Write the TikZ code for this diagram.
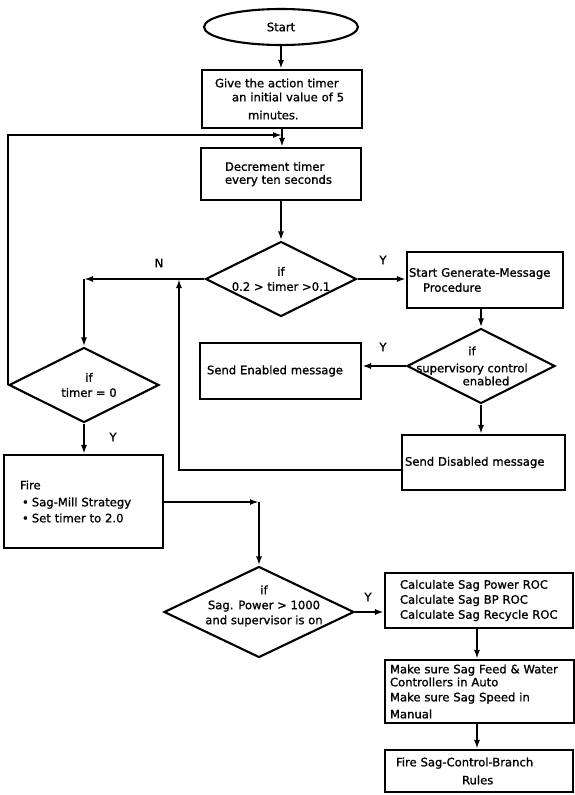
\documentclass[tikz,border=0pt]{standalone}
\usepackage{fontspec}
\setmainfont{DejaVu Sans}[FakeBold=1.2]
\usetikzlibrary{shapes.geometric,arrows.meta}
\begin{document}
\begin{tikzpicture}[x=1pt,y=-1pt,
  every node/.style={font=\fontsize{11.6}{15}\selectfont},
  box/.style={draw, line width=2.1pt, rectangle, inner ysep=0pt, align=left},
  dia/.style={draw, line width=2.1pt, diamond, inner sep=0pt},
  dtext/.style={align=center, inner sep=0pt},
  conn/.style={line width=1.8pt, -{Latex[length=9pt,width=6pt]}},
  lab/.style={inner sep=0pt}]
\useasboundingbox (0,0) rectangle (575,795);

% nodes
\node[draw, line width=2.1pt, ellipse, inner sep=0pt, minimum width=154pt, minimum height=36pt] (start) at (281,27) {Start};

\node[box, inner xsep=13pt, text width=134pt, minimum height=58pt] (b1) at (282,99)
  {Give the action timer\\[-1pt]\hspace*{17pt}an initial value of 5\\[3pt]\hspace*{33pt}minutes.};

\node[box, inner xsep=24pt, text width=112pt, minimum height=52pt] (b2) at (281,174)
  {\mbox{}\\[-6pt]Decrement timer\\[-2pt]every ten seconds};

\node[dia, minimum width=151pt, minimum height=75pt,
  label={[dtext]center:{if\\0.2 > timer >0.1}}] (d1) at (281,279) {};

\node[box, inner xsep=2pt, text width=152pt, minimum height=56pt] (b3) at (485,280)
  {Start Generate-Message\\\hspace*{14pt}Procedure};

\node[dia, minimum width=148pt, minimum height=75pt,
  label={[dtext,xshift=-9pt]center:{if\\[2pt]supervisory control\\[-2pt]\hspace*{28pt}enabled}}] (d3) at (481,366) {};

\node[box, inner xsep=7pt, text width=147pt, minimum height=56pt] (en) at (280.5,371)
  {Send Enabled message};

\node[box, inner xsep=3pt, text width=157pt, minimum height=55pt] (dis) at (483.5,462.5)
  {Send Disabled message};

\node[dia, minimum width=150pt, minimum height=75pt,
  label={[dtext,xshift=5pt]center:{if\\timer = 0}}] (d2) at (84,385) {};

\node[box, inner xsep=16pt, text width=127pt, minimum height=93pt] (fire) at (83.5,501.5)
  {Fire\\[2pt]\hspace*{2pt}•\hspace*{3pt}Sag-Mill Strategy\\[1pt]\hspace*{2pt}•\hspace*{3pt}Set timer to 2.0};

\node[dia, minimum width=190pt, minimum height=91pt,
  label={[dtext,xshift=5pt,yshift=6pt]center:{if\\Sag. Power > 1000\\and supervisor is on}}] (d4) at (259,612) {};

\node[box, inner xsep=15pt, text width=158pt, minimum height=55pt] (calc) at (479,600.5)
  {Calculate Sag Power ROC\\Calculate Sag BP ROC\\Calculate Sag Recycle ROC};

\node[box, inner xsep=5pt, text width=179pt, minimum height=63pt] (make) at (479.5,691.5)
  {Make sure Sag Feed \& Water\\[-2pt]Controllers in Auto\\Make sure Sag Speed in\\[2pt]Manual};

\node[box, inner xsep=11pt, text width=166pt, minimum height=42pt] (fsag) at (479,771)
  {Fire Sag-Control-Branch\\[3pt]\hspace*{66pt}Rules};

% branch labels
\node[lab] (nN) at (159,263) {N};
\node[lab] (y1) at (383,260) {Y};
\node[lab] (y2) at (383,347) {Y};
\node[lab] (y3) at (113,437) {Y};
\node[lab] (y4) at (368,597) {Y};

% junction coordinates
\coordinate (j1) at (282,135);
\coordinate (c1) at (84,279);
\coordinate (c2) at (179,279);
\coordinate (c3) at (259,502);

% connectors
\draw[conn] (start.south) -- (start.south |- b1.north);
\draw[conn] (b1.south) -- (b1.south |- b2.north);
\draw[conn] (d2.west) -- (d2.west |- j1) -- (j1);
\draw[conn] (b2.south) -- (b2.south |- d1.north);
\draw[conn] (d1.east) -- (d1.east -| b3.west);
\draw[conn] (d1.west) -- (c1);
\draw[conn] (c1) -- (d2.north);
\draw[conn] (b3.south -| d3.north) -- (d3.north);
\draw[conn] (d3.west) -- (d3.west -| en.east);
\draw[conn] (d3.south) -- (d3.south |- dis.north);
\draw[conn] (dis.west |- 0,470) -| (c2);
\draw[conn] (d2.south) -- (d2.south |- fire.north);
\draw[conn] (fire.east |- c3) -- (c3);
\draw[conn] (c3) -- (d4.north);
\draw[conn] (d4.east) -- (d4.east -| calc.west);
\draw[conn] (calc.south -| 477,0) -- (make.north -| 477,0);
\draw[conn] (make.south -| 477,0) -- (fsag.north -| 477,0);
\end{tikzpicture}
\end{document}
